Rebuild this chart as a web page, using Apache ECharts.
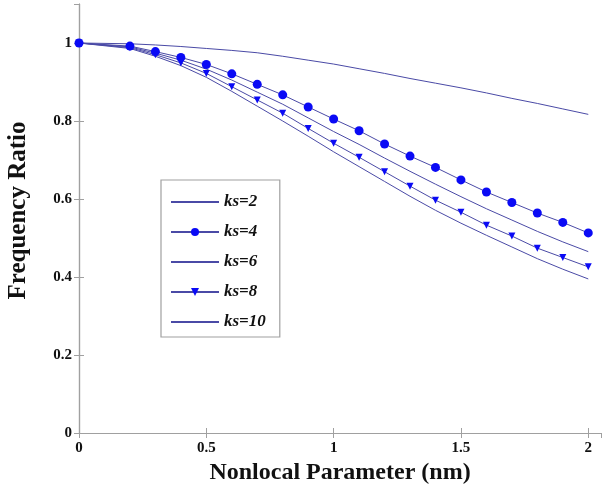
<!DOCTYPE html>
<html>
<head>
<meta charset="utf-8">
<script src="https://cdn.jsdelivr.net/npm/echarts@6/dist/echarts.min.js"></script>
<style>html,body{margin:0;padding:0;background:#fff}#c{width:602px;height:490px}</style>
</head>
<body>
<div id="c"></div>
<script>
const xs = [0,0.2,0.3,0.4,0.5,0.6,0.7,0.8,0.9,1.0,1.1,1.2,1.3,1.4,1.5,1.6,1.7,1.8,1.9,2.0];
const ks2 = [1.000,0.998,0.995,0.991,0.986,0.981,0.975,0.966,0.956,0.946,0.934,0.922,0.909,0.897,0.885,0.872,0.858,0.845,0.831,0.817];
const ks4 = [1.000,0.992,0.978,0.963,0.945,0.921,0.894,0.867,0.836,0.805,0.775,0.741,0.710,0.681,0.649,0.618,0.591,0.564,0.540,0.513];
const ks6 = [1.000,0.990,0.974,0.956,0.933,0.905,0.874,0.843,0.808,0.773,0.740,0.705,0.671,0.638,0.606,0.575,0.546,0.517,0.490,0.465];
const ks8 = [1.000,0.988,0.970,0.949,0.922,0.888,0.854,0.820,0.781,0.743,0.707,0.670,0.633,0.597,0.566,0.533,0.505,0.474,0.450,0.426];
const ks10 = [1.000,0.986,0.966,0.942,0.912,0.876,0.838,0.800,0.761,0.721,0.683,0.645,0.607,0.571,0.538,0.507,0.477,0.447,0.420,0.395];
const seriesNames = ['ks=2','ks=4','ks=6','ks=8','ks=10'];
const xTicks = [0,0.5,1,1.5,2];
const yTicks = [0,0.2,0.4,0.6,0.8,1];

const lineColor = '#4a4aa6';
const markColor = '#0a0af5';
const font = '"Liberation Serif","Times New Roman",serif';
const pairs = ys => xs.map((x,i)=>[x, ys[i]]);

function mk(name, ys, symbol, size, rotate){
  return {
    name, type:'line', data: pairs(ys),
    symbol: symbol || 'none', symbolSize: size || 0, symbolRotate: rotate || 0,
    showSymbol: !!symbol,
    lineStyle:{color:lineColor, width:1},
    itemStyle:{color:markColor, borderWidth:0},
    emphasis:{disabled:true}, animation:false
  };
}

const axisLineStyle = {show:true, lineStyle:{color:'#a0a0a0', width:1.2}};
const tickStyle = {show:true, inside:true, length:5, lineStyle:{color:'#a0a0a0'}};
const labelStyle = {fontFamily:font, fontWeight:'bold', fontSize:15, color:'#111'};
const hidden = {color:'rgba(0,0,0,0)', borderWidth:0, opacity:0};

const chart = echarts.init(document.getElementById('c'), null, {renderer:'canvas'});
chart.setOption({
  backgroundColor:'#fff',
  animation:false,
  grid:{left:79, top:4, right:1, bottom:57, show:false, containLabel:false, outerBoundsMode:'none'},
  xAxis:[{
    type:'value', min:0, max:2.05, interval:0.5,
    name:'Nonlocal Parameter (nm)', nameLocation:'middle', nameGap:28,
    nameTextStyle:{fontFamily:font, fontWeight:'bold', fontSize:24, color:'#111'},
    axisLine:axisLineStyle, axisTick:tickStyle,
    axisLabel:Object.assign({margin:8, showMaxLabel:false,
      formatter:v=>xTicks.includes(+v.toFixed(2))?String(v):''}, labelStyle),
    splitLine:{show:false}
  },{
    type:'value', position:'top', min:0, max:2.05, interval:0.5,
    axisLine:axisLineStyle, axisTick:tickStyle, axisLabel:{show:false}, splitLine:{show:false}
  }],
  yAxis:[{
    type:'value', min:0, max:1.1, interval:0.2,
    name:'Frequency Ratio', nameLocation:'middle', nameGap:48,
    nameTextStyle:{fontFamily:font, fontWeight:'bold', fontSize:25, color:'#111', padding:[0,0,0,16]},
    axisLine:axisLineStyle, axisTick:tickStyle,
    axisLabel:Object.assign({margin:7, showMaxLabel:false,
      formatter:v=>yTicks.includes(+v.toFixed(2))?String(+v.toFixed(2)):''}, labelStyle),
    splitLine:{show:false}
  },{
    type:'value', position:'right', min:0, max:1.1, interval:0.2,
    axisLine:axisLineStyle, axisTick:tickStyle, axisLabel:{show:false}, splitLine:{show:false}
  }],
  legend:{
    orient:'vertical', left:161, top:180,
    data:[
      {name:seriesNames[0], itemStyle:hidden},
      {name:seriesNames[1]},
      {name:seriesNames[2], itemStyle:hidden},
      {name:seriesNames[3]},
      {name:seriesNames[4], itemStyle:hidden}
    ],
    itemWidth:48, itemHeight:10, itemGap:10,
    padding:[12,14,5,9],
    borderColor:'#a0a0a0', borderWidth:1.2, backgroundColor:'#fff',
    textStyle:{fontFamily:font, fontWeight:'bold', fontStyle:'italic', fontSize:17, color:'#111', lineHeight:20},
    selectedMode:false
  },
  series:[
    mk(seriesNames[0], ks2),
    mk(seriesNames[1], ks4, 'circle', 9),
    mk(seriesNames[2], ks6),
    mk(seriesNames[3], ks8, 'triangle', 7, 180),
    mk(seriesNames[4], ks10)
  ]
});
</script>
</body>
</html>
